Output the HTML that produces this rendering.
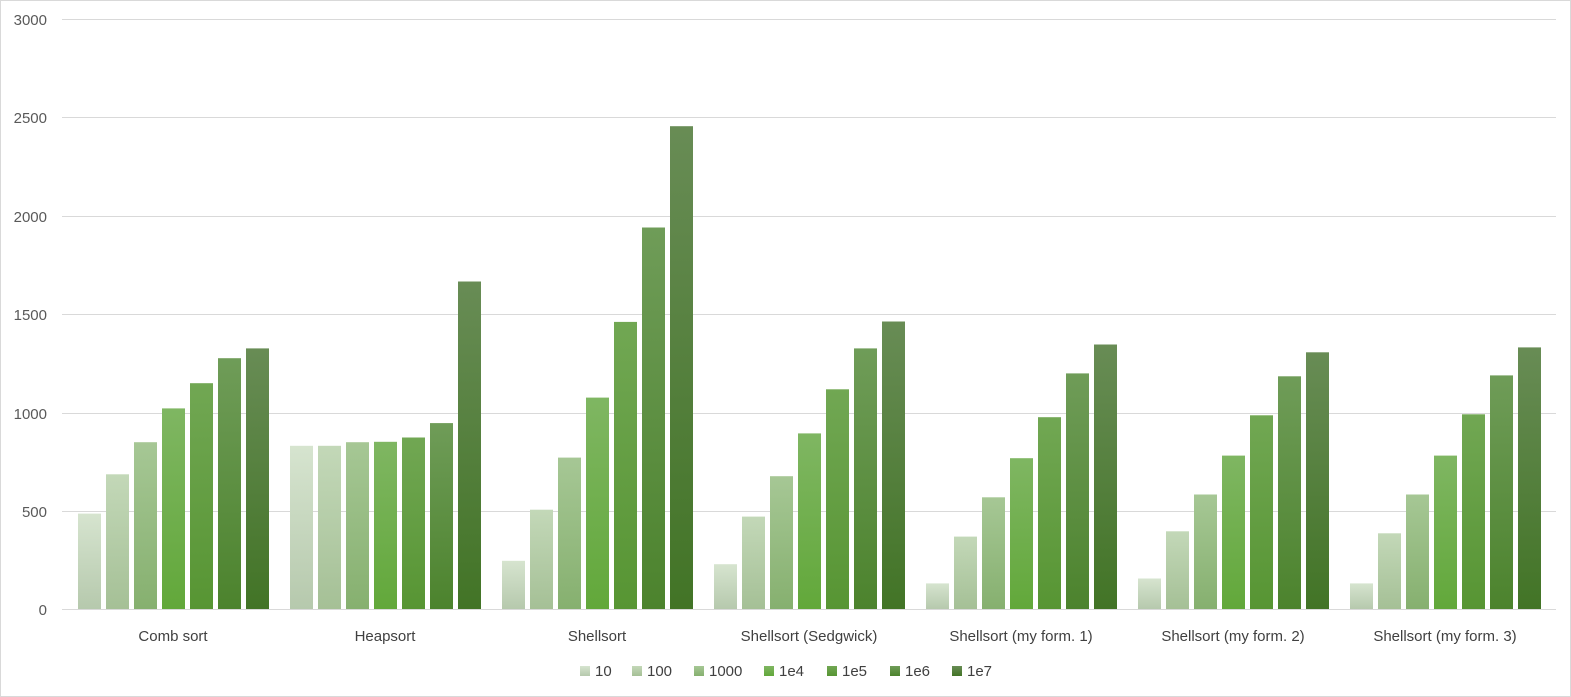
<!DOCTYPE html>
<html><head><meta charset="utf-8"><style>
body{margin:0;background:#fff;}
svg{display:block;font-family:"Liberation Sans",sans-serif;}
</style></head><body>
<svg width="1571" height="697" viewBox="0 0 1571 697">
<defs>
<linearGradient id="g0" x1="0" y1="0" x2="0" y2="1"><stop offset="0" stop-color="#d6e4cf"/><stop offset="1" stop-color="#b6c9ad"/></linearGradient>
<linearGradient id="g1" x1="0" y1="0" x2="0" y2="1"><stop offset="0" stop-color="#c3d8b8"/><stop offset="1" stop-color="#a5c096"/></linearGradient>
<linearGradient id="g2" x1="0" y1="0" x2="0" y2="1"><stop offset="0" stop-color="#a6c795"/><stop offset="1" stop-color="#86b06f"/></linearGradient>
<linearGradient id="g3" x1="0" y1="0" x2="0" y2="1"><stop offset="0" stop-color="#7fb662"/><stop offset="1" stop-color="#62a83a"/></linearGradient>
<linearGradient id="g4" x1="0" y1="0" x2="0" y2="1"><stop offset="0" stop-color="#71a753"/><stop offset="1" stop-color="#579533"/></linearGradient>
<linearGradient id="g5" x1="0" y1="0" x2="0" y2="1"><stop offset="0" stop-color="#6f9c58"/><stop offset="1" stop-color="#4c832d"/></linearGradient>
<linearGradient id="g6" x1="0" y1="0" x2="0" y2="1"><stop offset="0" stop-color="#688c55"/><stop offset="1" stop-color="#427426"/></linearGradient>
</defs>
<rect x="0.5" y="0.5" width="1570" height="696" fill="#fff" stroke="#d9d9d9"/>
<g stroke="#d9d9d9" stroke-width="1">
<line x1="62" x2="1556" y1="19.5" y2="19.5"/>
<line x1="62" x2="1556" y1="117.5" y2="117.5"/>
<line x1="62" x2="1556" y1="216.5" y2="216.5"/>
<line x1="62" x2="1556" y1="314.5" y2="314.5"/>
<line x1="62" x2="1556" y1="413.5" y2="413.5"/>
<line x1="62" x2="1556" y1="511.5" y2="511.5"/>
<line x1="62" x2="1556" y1="609.5" y2="609.5"/>
</g>
<g font-size="15" fill="#595959" text-anchor="end">
<text x="47" y="25">3000</text>
<text x="47" y="123">2500</text>
<text x="47" y="222">2000</text>
<text x="47" y="320">1500</text>
<text x="47" y="419">1000</text>
<text x="47" y="517">500</text>
<text x="47" y="615">0</text>
</g>
<g>
<rect x="78" y="513.6" width="23" height="95.4" fill="url(#g0)"/>
<rect x="106" y="474.3" width="23" height="134.7" fill="url(#g1)"/>
<rect x="134" y="442.2" width="23" height="166.8" fill="url(#g2)"/>
<rect x="162" y="408.4" width="23" height="200.6" fill="url(#g3)"/>
<rect x="190" y="383.2" width="23" height="225.8" fill="url(#g4)"/>
<rect x="218" y="358.2" width="23" height="250.8" fill="url(#g5)"/>
<rect x="246" y="348.4" width="23" height="260.6" fill="url(#g6)"/>

<rect x="290" y="445.8" width="23" height="163.2" fill="url(#g0)"/>
<rect x="318" y="445.8" width="23" height="163.2" fill="url(#g1)"/>
<rect x="346" y="442.2" width="23" height="166.8" fill="url(#g2)"/>
<rect x="374" y="441.8" width="23" height="167.2" fill="url(#g3)"/>
<rect x="402" y="437.5" width="23" height="171.5" fill="url(#g4)"/>
<rect x="430" y="423.1" width="23" height="185.9" fill="url(#g5)"/>
<rect x="458" y="281.5" width="23" height="327.5" fill="url(#g6)"/>

<rect x="502" y="560.8" width="23" height="48.2" fill="url(#g0)"/>
<rect x="530" y="509.7" width="23" height="99.3" fill="url(#g1)"/>
<rect x="558" y="457.6" width="23" height="151.4" fill="url(#g2)"/>
<rect x="586" y="397.6" width="23" height="211.4" fill="url(#g3)"/>
<rect x="614" y="321.9" width="23" height="287.1" fill="url(#g4)"/>
<rect x="642" y="227.5" width="23" height="381.5" fill="url(#g5)"/>
<rect x="670" y="126.2" width="23" height="482.8" fill="url(#g6)"/>

<rect x="714" y="564.2" width="23" height="44.8" fill="url(#g0)"/>
<rect x="742" y="516.6" width="23" height="92.4" fill="url(#g1)"/>
<rect x="770" y="476.2" width="23" height="132.8" fill="url(#g2)"/>
<rect x="798" y="433.4" width="23" height="175.6" fill="url(#g3)"/>
<rect x="826" y="389.3" width="23" height="219.7" fill="url(#g4)"/>
<rect x="854" y="348.4" width="23" height="260.6" fill="url(#g5)"/>
<rect x="882" y="321.5" width="23" height="287.5" fill="url(#g6)"/>

<rect x="926" y="583.4" width="23" height="25.6" fill="url(#g0)"/>
<rect x="954" y="536.6" width="23" height="72.4" fill="url(#g1)"/>
<rect x="982" y="497.3" width="23" height="111.7" fill="url(#g2)"/>
<rect x="1010" y="458.2" width="23" height="150.8" fill="url(#g3)"/>
<rect x="1038" y="417.2" width="23" height="191.8" fill="url(#g4)"/>
<rect x="1066" y="373.4" width="23" height="235.6" fill="url(#g5)"/>
<rect x="1094" y="344.5" width="23" height="264.5" fill="url(#g6)"/>

<rect x="1138" y="578.5" width="23" height="30.5" fill="url(#g0)"/>
<rect x="1166" y="531.3" width="23" height="77.7" fill="url(#g1)"/>
<rect x="1194" y="494.5" width="23" height="114.5" fill="url(#g2)"/>
<rect x="1222" y="455.6" width="23" height="153.4" fill="url(#g3)"/>
<rect x="1250" y="415.3" width="23" height="193.7" fill="url(#g4)"/>
<rect x="1278" y="376.3" width="23" height="232.7" fill="url(#g5)"/>
<rect x="1306" y="352.3" width="23" height="256.7" fill="url(#g6)"/>

<rect x="1350" y="583.4" width="23" height="25.6" fill="url(#g0)"/>
<rect x="1378" y="533.3" width="23" height="75.7" fill="url(#g1)"/>
<rect x="1406" y="494.5" width="23" height="114.5" fill="url(#g2)"/>
<rect x="1434" y="455.6" width="23" height="153.4" fill="url(#g3)"/>
<rect x="1462" y="414.3" width="23" height="194.7" fill="url(#g4)"/>
<rect x="1490" y="375.4" width="23" height="233.6" fill="url(#g5)"/>
<rect x="1518" y="347.4" width="23" height="261.6" fill="url(#g6)"/>
</g>
<g font-size="15" fill="#404040" text-anchor="middle">
<text x="173" y="641">Comb sort</text>
<text x="385" y="641">Heapsort</text>
<text x="597" y="641">Shellsort</text>
<text x="809" y="641">Shellsort (Sedgwick)</text>
<text x="1021" y="641">Shellsort (my form. 1)</text>
<text x="1233" y="641">Shellsort (my form. 2)</text>
<text x="1445" y="641">Shellsort (my form. 3)</text>
</g>
<g font-size="15" fill="#404040">
<rect x="580" y="666" width="10" height="10" fill="url(#g0)"/><text x="595" y="676">10</text>
<rect x="632" y="666" width="10" height="10" fill="url(#g1)"/><text x="647" y="676">100</text>
<rect x="694" y="666" width="10" height="10" fill="url(#g2)"/><text x="709" y="676">1000</text>
<rect x="764" y="666" width="10" height="10" fill="url(#g3)"/><text x="779" y="676">1e4</text>
<rect x="827" y="666" width="10" height="10" fill="url(#g4)"/><text x="842" y="676">1e5</text>
<rect x="890" y="666" width="10" height="10" fill="url(#g5)"/><text x="905" y="676">1e6</text>
<rect x="952" y="666" width="10" height="10" fill="url(#g6)"/><text x="967" y="676">1e7</text>
</g>
</svg>
</body></html>
